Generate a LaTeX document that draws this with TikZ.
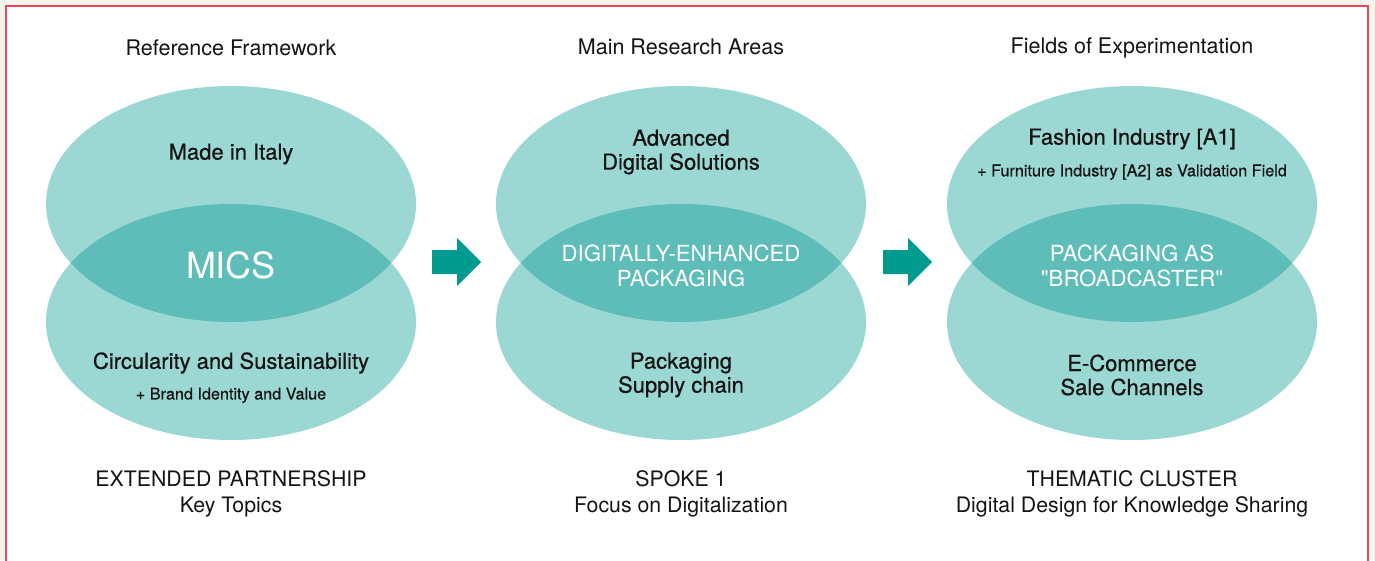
\documentclass[tikz,border=0pt]{standalone}
\usepackage{fontspec}
\setmainfont{TeX Gyre Heros}
\newfontfamily\medfont{TeX Gyre Heros}[FakeBold=0.6]
\usepackage{tikz}
\usetikzlibrary{positioning}

\definecolor{paper}{RGB}{248,244,236}
\definecolor{frame}{RGB}{232,72,92}
\definecolor{ovalLight}{RGB}{155,215,211}
\definecolor{ovalCore}{RGB}{94,189,184}
\definecolor{arrowTeal}{RGB}{0,154,143}
\definecolor{ink}{RGB}{20,20,20}

\tikzset{
    heading/.style={font=\fontsize{21.5}{25}\selectfont, text=ink, align=center},
    footer/.style={font=\fontsize{21.3}{26}\selectfont, text=ink, align=center},
    topic/.style={font=\medfont\fontsize{22}{24}\selectfont, text=ink, align=center},
    subtopic/.style={font=\medfont\fontsize{16.2}{18}\selectfont, text=ink, align=center},
    core/.style={font=\fontsize{22.2}{25}\selectfont, text=white, align=center},
    blockarrow/.style={fill=arrowTeal}
}

\begin{document}
\begin{tikzpicture}[x=1pt,y=-1pt]
    \useasboundingbox (0,0) rectangle (1375,560);
    \clip (0,0) rectangle (1375,560);
    \fill[paper] (0,0) rectangle (1375,560);
    \draw[frame, fill=white, line width=1.5pt] (6,6) rectangle (1368,580);

    % the three pairs of ovals
    \foreach \cx in {231,681,1132} {
        \fill[ovalLight] (\cx,204) ellipse [x radius=185, y radius=118];
        \fill[ovalLight] (\cx,322) ellipse [x radius=185, y radius=118];
        \begin{scope}
            \clip (\cx,204) ellipse [x radius=185, y radius=118];
            \fill[ovalCore] (\cx,322) ellipse [x radius=185, y radius=118];
        \end{scope}
    }

    % arrows
    \fill[blockarrow] (432,250) -- (457,250) -- (457,238) -- (481,262)
        -- (457,286) -- (457,274) -- (432,274) -- cycle;
    \fill[blockarrow] (883,250) -- (908,250) -- (908,238) -- (932,262)
        -- (908,286) -- (908,274) -- (883,274) -- cycle;

    % reference framework
    \node[heading] (refHead) at (231,48) {Reference Framework};
    \node[topic] (italy) at (231,154) {Made in Italy};
    \node[core, font=\fontsize{36}{40}\selectfont] (mics) at (231,265) {MICS};
    \node[topic] (circ) at (231,363) {Circularity and Sustainability};
    \node[subtopic, below=7pt of circ] (brand) {+ Brand Identity and Value};
    \node[footer] (refFoot) at (231,494) {EXTENDED PARTNERSHIP\\Key Topics};

    % main research areas
    \node[heading] (resHead) at (681,47) {Main Research Areas};
    \node[topic] (digital) at (681,152) {Advanced\\Digital Solutions};
    \node[core] (enhanced) at (681,266) {DIGITALLY-ENHANCED\\PACKAGING};
    \node[topic] (supply) at (681,375) {Packaging\\Supply chain};
    \node[footer] (resFoot) at (681,494) {SPOKE 1\\Focus on Digitalization};

    % fields of experimentation
    \node[heading] (expHead) at (1132,48) {Fields of Experimentation};
    \node[topic] (fashion) at (1132,139) {Fashion Industry [A1]};
    \node[subtopic, below=8pt of fashion] (furniture) {+ Furniture Industry [A2] as Validation Field};
    \node[core] (broad) at (1132,266) {PACKAGING AS\\\textquotedbl BROADCASTER\textquotedbl};
    \node[topic] (ecom) at (1132,375) {E-Commerce\\Sale Channels};
    \node[footer] (expFoot) at (1132,494) {THEMATIC CLUSTER\\Digital Design for Knowledge Sharing};
\end{tikzpicture}
\end{document}
